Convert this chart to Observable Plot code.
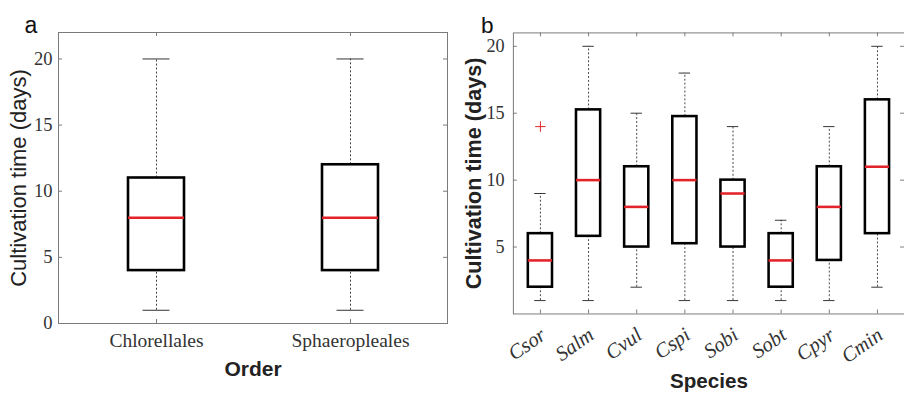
<!DOCTYPE html>
<html><head><meta charset="utf-8">
<script src="https://cdn.jsdelivr.net/npm/d3@7"></script>
<script src="https://cdn.jsdelivr.net/npm/@observablehq/plot@0.6"></script>
<style>
html,body{margin:0;padding:0;overflow:hidden;background:#fff;width:904px;height:399px}
#wrap{position:relative;width:904px;height:399px;overflow:hidden;background:#fff}
#a{position:absolute;left:0;top:0}
#b{position:absolute;left:450px;top:0}
</style></head><body><div id="wrap"><div id="a"></div><div id="b"></div></div>
<script>
// Panel a: by order
const orders = ["Chlorellales", "Sphaeropleales"];
const orderMin = [1, 1];
const orderQ1 = [4, 4];
const orderMed = [8, 8];
const orderQ3 = [11, 12];
const orderMax = [20, 20];
const orderTicks = [0, 5, 10, 15, 20];

// Panel b: by species
const species = ["Csor", "Salm", "Cvul", "Cspi", "Sobi", "Sobt", "Cpyr", "Cmin"];
const spMin = [1, 1, 2, 1, 1, 1, 1, 2];
const spQ1 = [2, 5.8, 5, 5.25, 5, 2, 4, 6];
const spMed = [4, 10, 8, 10, 9, 4, 8, 11];
const spQ3 = [6, 15.25, 11, 14.75, 10, 6, 11, 16];
const spMax = [9, 20, 15, 18, 14, 7, 14, 20];
const outlierSpecies = ["Csor"];
const outlierValues = [14];
const speciesTicks = [5, 10, 15, 20];

const RED = "#e3232a";
const SERIF = "'Liberation Serif', serif";
const SANS = "'Liberation Sans', Arial, sans-serif";

function panel(o) {
  const rows = o.cats.map((c, i) => ({cat: c, min: o.mins[i], q1: o.q1s[i], med: o.meds[i], q3: o.q3s[i], max: o.maxs[i]}));
  const outs = (o.outCats || []).map((c, i) => ({cat: c, value: o.outVals[i]}));
  const fw = o.width - o.ml - o.mr, fh = o.height - o.mt - o.mb;
  const tl = 4;
  return Plot.plot({
    width: o.width, height: o.height,
    marginLeft: o.ml, marginRight: o.mr, marginTop: o.mt, marginBottom: o.mb,
    style: {background: "white", overflow: "visible"},
    x: {type: "band", domain: o.cats, padding: 0},
    y: {domain: o.yDomain},
    marks: [
      Plot.ruleX(rows, {x: "cat", y1: "min", y2: "q1", stroke: "#444", strokeWidth: 1, strokeDasharray: "2,2"}),
      Plot.ruleX(rows, {x: "cat", y1: "q3", y2: "max", stroke: "#444", strokeWidth: 1, strokeDasharray: "2,2"}),
      Plot.tickY(rows, {x: "cat", y: "min", stroke: "#333", strokeWidth: 1, insetLeft: o.capInset, insetRight: o.capInset}),
      Plot.tickY(rows, {x: "cat", y: "max", stroke: "#333", strokeWidth: 1, insetLeft: o.capInset, insetRight: o.capInset}),
      Plot.barY(rows, {x: "cat", y1: "q1", y2: "q3", fill: "white", stroke: "#000", strokeWidth: 2.6, insetLeft: o.boxInset, insetRight: o.boxInset}),
      Plot.tickY(rows, {x: "cat", y: "med", stroke: RED, strokeWidth: 2.6, insetLeft: o.boxInset, insetRight: o.boxInset}),
      Plot.dot(outs, {x: "cat", y: "value", symbol: "plus", r: 3.5, stroke: RED, strokeWidth: 1}),
      Plot.frame({stroke: "#7a7a7a", strokeWidth: 1}),
      // inward ticks
      Plot.tickY(o.yTicks, {y: d => d, insetRight: fw - tl, stroke: "#7a7a7a"}),
      Plot.tickY(o.yTicks, {y: d => d, insetLeft: fw - tl, stroke: "#7a7a7a"}),
      Plot.ruleX(o.cats, {x: d => d, insetTop: fh - tl, stroke: "#7a7a7a"}),
      Plot.ruleX(o.cats, {x: d => d, insetBottom: fh - tl, stroke: "#7a7a7a"}),
      Plot.axisY(o.yTicks, {tickSize: 0, tickPadding: o.yPad, label: null, fontFamily: SERIF, fontSize: 18.5, fill: "#333"}),
      o.rotate
        ? Plot.axisX({tickSize: 0, tickPadding: 19, tickRotate: o.rotate, lineAnchor: "middle", textAnchor: "end", dx: 3, label: null, fontFamily: SERIF, fontStyle: "italic", fontSize: 21, fill: "#333"})
        : Plot.axisX({tickSize: 0, tickPadding: 10, label: null, fontFamily: SERIF, fontSize: 19.5, fill: "#333"}),
      Plot.text([o.yTitle], {text: d => d, frameAnchor: "left", rotate: -90, dx: o.yTitleDx, lineAnchor: "bottom", textAnchor: "middle", fontFamily: SANS, fontSize: 22, fontWeight: o.yBold ? "bold" : "normal", fill: "#222"}),
      Plot.text([o.xTitle], {text: d => d, frameAnchor: "bottom", dy: o.xTitleDy, lineAnchor: "bottom", textAnchor: "middle", fontFamily: SANS, fontSize: 21, fontWeight: "bold", fill: "#222"}),
      Plot.text([o.letter], {text: d => d, frameAnchor: "top-left", dx: o.letterDx, lineAnchor: "bottom", textAnchor: "start", fontFamily: SANS, fontSize: 23, fill: "#111"})
    ]
  });
}

document.getElementById("a").append(panel({
  cats: orders, mins: orderMin, q1s: orderQ1, meds: orderMed, q3s: orderQ3, maxs: orderMax,
  width: 460, height: 399, ml: 58, mr: 13, mt: 32, mb: 76,
  yDomain: [0, 22], yTicks: orderTicks, yPad: 6,
  boxInset: 69, capInset: 83.5,
  yTitle: "Cultivation time (days)", yTitleDx: -33, yBold: false,
  xTitle: "Order", xTitleDy: 52, letter: "a", letterDx: -34
}));

document.getElementById("b").append(panel({
  cats: species, mins: spMin, q1s: spQ1, meds: spMed, q3s: spQ3, maxs: spMax,
  outCats: outlierSpecies, outVals: outlierValues,
  width: 462, height: 399, ml: 64, mr: 0, mt: 33, mb: 80,
  yDomain: [0, 21], yTicks: speciesTicks, yPad: 9,
  boxInset: 12.2, capInset: 18.7, rotate: -35,
  yTitle: "Cultivation time (days)", yTitleDx: -33, yBold: true,
  xTitle: "Species", xTitleDy: 75, letter: "b", letterDx: -33
}));
</script></body></html>
